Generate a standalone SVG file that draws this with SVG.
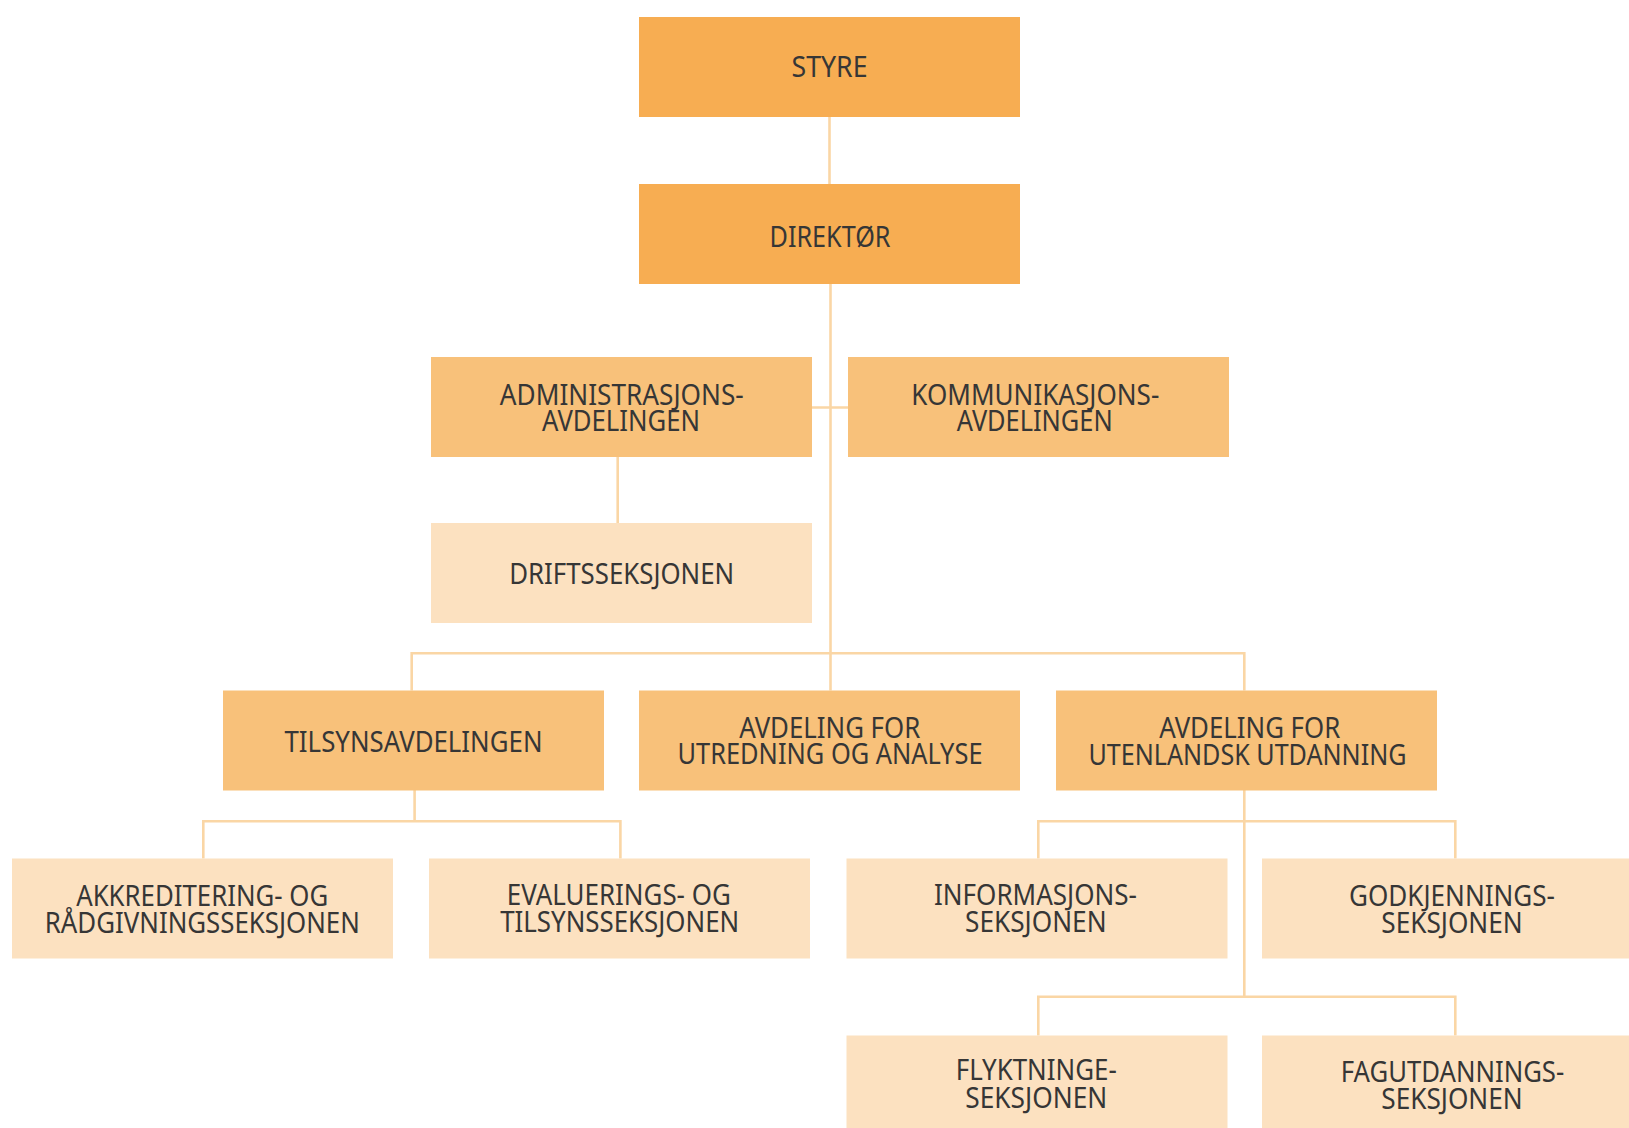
<svg xmlns="http://www.w3.org/2000/svg" width="1629" height="1128" viewBox="0 0 1629 1128">
<style>
.b{stroke:none}
.l1{fill:#F7AD52}
.l2{fill:#F8C17A}
.l3{fill:#FCE1C0}
.t{font-family:"Noto Sans","DejaVu Sans Condensed",sans-serif;font-size:28.5px;fill:#363636;text-anchor:middle}
.c{stroke:#FAD6A5;stroke-width:2.6;fill:none}
</style>
<rect width="1629" height="1128" fill="#FFFFFF"/>
<g id="connectors">
<path class="c" d="M829.5 117V184"/>
<path class="c" d="M830.5 284V690.5"/>
<path class="c" d="M812 407.5H848"/>
<path class="c" d="M617.7 457V523"/>
<path class="c" d="M411.7 690.5V653.3H1244.3V690.5"/>
<path class="c" d="M414.6 790V821.3"/>
<path class="c" d="M203.3 858.5V821.3H620.4V858.5"/>
<path class="c" d="M1244.3 790V996.7"/>
<path class="c" d="M1038.3 858.5V821.3H1455.3V858.5"/>
<path class="c" d="M1038.3 1035.5V996.7H1455.3V1035.5"/>
</g>
<g id="styre"><rect class="b l1" x="639" y="17" width="381" height="100"/>
<text class="t" x="829.5" y="77.3" textLength="76" lengthAdjust="spacingAndGlyphs">STYRE</text></g>
<g id="direktor"><rect class="b l1" x="639" y="184" width="381" height="100"/>
<text class="t" x="830" y="247.3" textLength="121" lengthAdjust="spacingAndGlyphs">DIREKTØR</text></g>
<g id="administrasjon"><rect class="b l2" x="431" y="357" width="381" height="100"/>
<text class="t" x="621.8" y="405" textLength="244" lengthAdjust="spacingAndGlyphs">ADMINISTRASJONS-</text>
<text class="t" x="621" y="431" textLength="158" lengthAdjust="spacingAndGlyphs">AVDELINGEN</text></g>
<g id="kommunikasjon"><rect class="b l2" x="848" y="357" width="381" height="100"/>
<text class="t" x="1035.3" y="405" textLength="248" lengthAdjust="spacingAndGlyphs">KOMMUNIKASJONS-</text>
<text class="t" x="1034.7" y="430.7" textLength="156" lengthAdjust="spacingAndGlyphs">AVDELINGEN</text></g>
<g id="drift"><rect class="b l3" x="431" y="523" width="381" height="100"/>
<text class="t" x="621.7" y="584.3" textLength="225" lengthAdjust="spacingAndGlyphs">DRIFTSSEKSJONEN</text></g>
<g id="tilsyn"><rect class="b l2" x="223" y="690.5" width="381" height="100"/>
<text class="t" x="413.5" y="751.7" textLength="258" lengthAdjust="spacingAndGlyphs">TILSYNSAVDELINGEN</text></g>
<g id="utredning"><rect class="b l2" x="639" y="690.5" width="381" height="100"/>
<text class="t" x="829.7" y="737.7" textLength="181" lengthAdjust="spacingAndGlyphs">AVDELING FOR</text>
<text class="t" x="830" y="764.3" textLength="305" lengthAdjust="spacingAndGlyphs">UTREDNING OG ANALYSE</text></g>
<g id="utenlandsk"><rect class="b l2" x="1056" y="690.5" width="381" height="100"/>
<text class="t" x="1249.7" y="738.3" textLength="181" lengthAdjust="spacingAndGlyphs">AVDELING FOR</text>
<text class="t" x="1247.5" y="765" textLength="318" lengthAdjust="spacingAndGlyphs">UTENLANDSK UTDANNING</text></g>
<g id="akkreditering"><rect class="b l3" x="12" y="858.5" width="381" height="100"/>
<text class="t" x="202.2" y="906" textLength="252" lengthAdjust="spacingAndGlyphs">AKKREDITERING- OG</text>
<text class="t" x="202.3" y="932.7" textLength="315" lengthAdjust="spacingAndGlyphs">RÅDGIVNINGSSEKSJONEN</text></g>
<g id="evaluering"><rect class="b l3" x="429" y="858.5" width="381" height="100"/>
<text class="t" x="618.8" y="905" textLength="224" lengthAdjust="spacingAndGlyphs">EVALUERINGS- OG</text>
<text class="t" x="619.7" y="931.7" textLength="239" lengthAdjust="spacingAndGlyphs">TILSYNSSEKSJONEN</text></g>
<g id="informasjon"><rect class="b l3" x="846.5" y="858.5" width="381" height="100"/>
<text class="t" x="1035.5" y="905" textLength="203" lengthAdjust="spacingAndGlyphs">INFORMASJONS-</text>
<text class="t" x="1035.8" y="931.7" textLength="141.5" lengthAdjust="spacingAndGlyphs">SEKSJONEN</text></g>
<g id="godkjenning"><rect class="b l3" x="1262" y="858.5" width="381" height="100"/>
<text class="t" x="1452" y="906" textLength="206" lengthAdjust="spacingAndGlyphs">GODKJENNINGS-</text>
<text class="t" x="1452" y="932.7" textLength="141.5" lengthAdjust="spacingAndGlyphs">SEKSJONEN</text></g>
<g id="flyktninge"><rect class="b l3" x="846.5" y="1035.5" width="381" height="100"/>
<text class="t" x="1036.3" y="1080" textLength="161" lengthAdjust="spacingAndGlyphs">FLYKTNINGE-</text>
<text class="t" x="1036.3" y="1107.7" textLength="142" lengthAdjust="spacingAndGlyphs">SEKSJONEN</text></g>
<g id="fagutdanning"><rect class="b l3" x="1262" y="1035.5" width="381" height="100"/>
<text class="t" x="1452.5" y="1081.7" textLength="223.5" lengthAdjust="spacingAndGlyphs">FAGUTDANNINGS-</text>
<text class="t" x="1452" y="1109.3" textLength="141.5" lengthAdjust="spacingAndGlyphs">SEKSJONEN</text></g>
</svg>
